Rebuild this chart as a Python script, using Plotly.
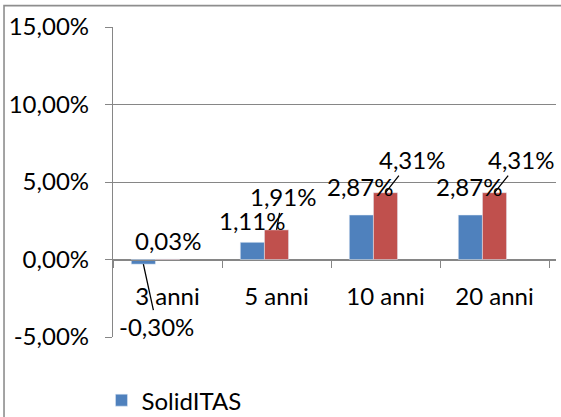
import plotly.graph_objects as go

# ---- data ----
categories = ["3 anni", "5 anni", "10 anni", "20 anni"]
solid_itas = [-0.30, 1.11, 2.87, 2.87]
benchmark = [0.03, 1.91, 4.31, 4.31]
third_series = [None, None, None, None]
y_tick_vals = [-5, 0, 5, 10, 15]
y_tick_text = ["-5,00%", "0,00%", "5,00%", "10,00%", "15,00%"]

FONT = "Lato"
FS = 24
GRID = "#868686"
BLUE = "#4F81BD"
RED = "#C0504D"
GREEN = "#9BBB59"
BARGAP = 0.336


def fmt(v):
    return f"{v:.2f}".replace(".", ",") + "%"


fig = go.Figure()
fig.add_trace(go.Bar(x=categories, y=solid_itas, name="SolidITAS",
                     marker=dict(color=BLUE), showlegend=True))
fig.add_trace(go.Bar(x=categories, y=benchmark, name="Benchmark",
                     marker=dict(color=RED), showlegend=False))
fig.add_trace(go.Bar(x=categories, y=third_series, name="Serie3",
                     marker=dict(color=GREEN), showlegend=False))

# bar centre offsets within a group (category units)
w = (1 - BARGAP) / 3
blue_off = -w
red_off = 0.0

annotations = []
# label placement styles: (series values, offset, index, mode, dx, dy)
label_specs = [
    (solid_itas, blue_off, 0, "arrow", 13.5, 62),
    (benchmark, red_off, 0, "shift", 0, 18.5),
    (solid_itas, blue_off, 1, "shift", -0.5, 22),
    (benchmark, red_off, 1, "arrow", 6, -33),
    (solid_itas, blue_off, 2, "shift", -1.5, 28.5),
    (benchmark, red_off, 2, "arrow", 26, -33),
    (solid_itas, blue_off, 3, "shift", -1.5, 28.5),
    (benchmark, red_off, 3, "arrow", 26.5, -33),
]
for vals, off, i, mode, dx, dy in label_specs:
    v = vals[i]
    base = dict(x=i + off, y=v, xref="x", yref="y", text=fmt(v),
                font=dict(family=FONT, size=FS, color="black"))
    if mode == "arrow":
        base.update(showarrow=True, arrowhead=0, arrowwidth=1.3,
                    arrowcolor="black", ax=dx, ay=dy, standoff=0,
                    startstandoff=0)
    else:
        base.update(showarrow=False, xshift=dx, yshift=dy)
    annotations.append(base)

fig.update_layout(
    width=561, height=417,
    margin=dict(l=113, r=5, t=27, b=80, autoexpand=False),
    paper_bgcolor="white", plot_bgcolor="white",
    barmode="group", bargap=BARGAP, bargroupgap=0,
    font=dict(family=FONT, size=FS, color="black"),
    annotations=annotations,
    showlegend=True,
    legend=dict(orientation="h", x=-0.026, xanchor="left", y=-0.205,
                yanchor="middle", font=dict(family=FONT, size=FS),
                bgcolor="rgba(0,0,0,0)", itemwidth=30),
    xaxis=dict(type="category", anchor="free", position=0.25,
               showline=True, linecolor=GRID, linewidth=1.3,
               ticks="outside", ticklen=7, tickcolor=GRID, tickwidth=1.3,
               tickson="boundaries", showgrid=False, zeroline=False,
               ticklabelstandoff=16, automargin=False,
               tickfont=dict(family=FONT, size=FS, color="black")),
    yaxis=dict(range=[-5, 15], tickvals=y_tick_vals, ticktext=y_tick_text,
               showline=True, linecolor=GRID, linewidth=1.3,
               ticks="outside", ticklen=7, tickcolor=GRID, tickwidth=1.3,
               showgrid=True, gridcolor=GRID, gridwidth=1.3,
               zeroline=False, ticklabelstandoff=11, automargin=False,
               tickfont=dict(family=FONT, size=FS, color="black")),
    shapes=[dict(type="path", xref="paper", yref="paper",
                 path="M -0.246 -0.4 L -0.246 1.069 L 1.3 1.069",
                 line=dict(color="#8E8E8E", width=1.6), layer="above")],
)

fig.write_html(
    "out.html",
    config={"displayModeBar": False},
    post_script="document.body.style.margin='0';document.body.style.overflow='hidden';",
)
